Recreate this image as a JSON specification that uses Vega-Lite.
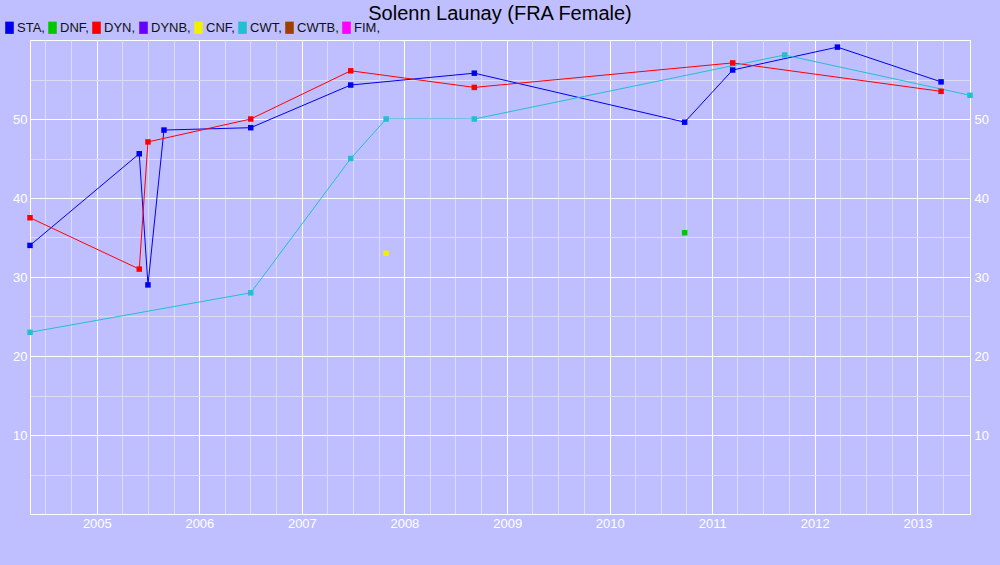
{
  "$schema": "https://vega.github.io/schema/vega-lite/v6.json",
  "width": 940,
  "height": 474,
  "autosize": {"type": "none"},
  "padding": {"left": 30, "top": 40, "right": 30, "bottom": 51},
  "background": "#BFBFFF",
  "config": {
    "view": {"stroke": "#FFFFFF", "strokeWidth": 1, "fill": "#BFBFFF"},
    "font": "Liberation Sans"
  },
  "title": {
    "text": "Solenn Launay (FRA Female)",
    "fontSize": 20,
    "fontWeight": "normal",
    "color": "#000000",
    "anchor": "middle",
    "font": "Liberation Sans",
    "offset": -3
  },
  "data": {
    "values": [
      {"event": "STA", "date": "2004-05-08", "value": 34.0},
      {"event": "STA", "date": "2005-06-01", "value": 45.6},
      {"event": "STA", "date": "2005-07-02", "value": 29.0},
      {"event": "STA", "date": "2005-08-28", "value": 48.6},
      {"event": "STA", "date": "2006-07-03", "value": 48.9},
      {"event": "STA", "date": "2007-06-24", "value": 54.3},
      {"event": "STA", "date": "2008-09-06", "value": 55.8},
      {"event": "STA", "date": "2010-09-25", "value": 49.6},
      {"event": "STA", "date": "2011-03-15", "value": 56.2},
      {"event": "STA", "date": "2012-03-22", "value": 59.1},
      {"event": "STA", "date": "2013-03-26", "value": 54.7},
      {"event": "DYN", "date": "2004-05-08", "value": 37.5},
      {"event": "DYN", "date": "2005-06-01", "value": 31.0},
      {"event": "DYN", "date": "2005-07-02", "value": 47.1},
      {"event": "DYN", "date": "2006-07-03", "value": 50.0},
      {"event": "DYN", "date": "2007-06-24", "value": 56.1},
      {"event": "DYN", "date": "2008-09-06", "value": 54.0},
      {"event": "DYN", "date": "2011-03-15", "value": 57.1},
      {"event": "DYN", "date": "2013-03-26", "value": 53.5},
      {"event": "CWT", "date": "2004-05-08", "value": 23.0},
      {"event": "CWT", "date": "2006-07-03", "value": 28.0},
      {"event": "CWT", "date": "2007-06-24", "value": 45.0},
      {"event": "CWT", "date": "2007-10-28", "value": 50.0},
      {"event": "CWT", "date": "2008-09-06", "value": 50.0},
      {"event": "CWT", "date": "2011-09-16", "value": 58.1},
      {"event": "CWT", "date": "2013-07-07", "value": 53.0},
      {"event": "CNF", "date": "2007-10-28", "value": 33.0},
      {"event": "DNF", "date": "2010-09-25", "value": 35.6}
    ]
  },
  "layer": [
    {
      "mark": {"type": "point", "opacity": 0},
      "encoding": {
        "x": {
          "field": "date", "type": "temporal",
          "scale": {"nice": false},
          "axis": {
            "orient": "bottom", "grid": true, "gridColor": "#DCDCF8", "gridWidth": 1,
            "values": [
              {"year": 2004, "month": 7}, {"year": 2004, "month": 10},
              {"year": 2005, "month": 4}, {"year": 2005, "month": 7}, {"year": 2005, "month": 10},
              {"year": 2006, "month": 4}, {"year": 2006, "month": 7}, {"year": 2006, "month": 10},
              {"year": 2007, "month": 4}, {"year": 2007, "month": 7}, {"year": 2007, "month": 10},
              {"year": 2008, "month": 4}, {"year": 2008, "month": 7}, {"year": 2008, "month": 10},
              {"year": 2009, "month": 4}, {"year": 2009, "month": 7}, {"year": 2009, "month": 10},
              {"year": 2010, "month": 4}, {"year": 2010, "month": 7}, {"year": 2010, "month": 10},
              {"year": 2011, "month": 4}, {"year": 2011, "month": 7}, {"year": 2011, "month": 10},
              {"year": 2012, "month": 4}, {"year": 2012, "month": 7}, {"year": 2012, "month": 10},
              {"year": 2013, "month": 4}
            ],
            "labels": false, "ticks": false, "domain": false, "title": null
          }
        },
        "y": {
          "field": "value", "type": "quantitative",
          "scale": {"domain": [0, 60], "nice": false},
          "axis": {"orient": "left", "grid": true, "gridColor": "#DCDCF8", "gridWidth": 1, "values": [5, 15, 25, 35, 45, 55], "labels": false, "ticks": false, "domain": false, "title": null}
        }
      }
    },
    {
      "mark": {"type": "point", "opacity": 0},
      "encoding": {
        "x": {
          "field": "date", "type": "temporal",
          "axis": {
            "orient": "bottom", "grid": true, "gridColor": "#FFFFFF", "gridWidth": 1,
            "values": [{"year": 2005}, {"year": 2006}, {"year": 2007}, {"year": 2008}, {"year": 2009}, {"year": 2010}, {"year": 2011}, {"year": 2012}, {"year": 2013}],
            "format": "%Y", "labelColor": "#FFFFFF", "labelFontSize": 13, "labelFont": "Liberation Sans", "labelPadding": 3,
            "ticks": false, "domain": true, "domainColor": "#FFFFFF", "title": null, "labelFlush": false
          }
        },
        "y": {
          "field": "value", "type": "quantitative",
          "axis": {
            "orient": "left", "grid": true, "gridColor": "#FFFFFF", "gridWidth": 1,
            "values": [10, 20, 30, 40, 50], "labelColor": "#FFFFFF", "labelFontSize": 13, "labelFont": "Liberation Sans", "labelPadding": 3,
            "ticks": false, "domain": true, "domainColor": "#FFFFFF", "title": null
          }
        }
      }
    },
    {
      "mark": {"type": "line", "strokeWidth": 1},
      "encoding": {
        "x": {"field": "date", "type": "temporal", "axis": null},
        "y": {
          "field": "value", "type": "quantitative",
          "axis": {
            "orient": "right", "grid": false,
            "values": [10, 20, 30, 40, 50], "labelColor": "#FFFFFF", "labelFontSize": 13, "labelFont": "Liberation Sans", "labelPadding": 4,
            "ticks": false, "domain": true, "domainColor": "#FFFFFF", "title": null
          }
        },
        "color": {
          "field": "event", "type": "nominal",
          "scale": {
            "domain": ["STA", "DNF", "DYN", "DYNB", "CNF", "CWT", "CWTB", "FIM"],
            "range": ["#0000F0", "#00C800", "#FF0000", "#6600FF", "#F0F000", "#20C0D0", "#A04000", "#FF00FF"]
          }
        }
      }
    },
    {
      "mark": {"type": "point", "filled": true, "shape": "square", "size": 30, "opacity": 1},
      "encoding": {
        "x": {"field": "date", "type": "temporal", "axis": null},
        "y": {"field": "value", "type": "quantitative", "axis": null},
        "color": {
          "field": "event", "type": "nominal",
          "legend": {
            "orient": "none", "legendX": -27, "legendY": -19, "direction": "horizontal", "title": null,
            "padding": 0, "symbolType": "M-0.7,-1H0.7V1H-0.7Z", "symbolSize": 150, "symbolStrokeWidth": 0,
            "labelFontSize": 13, "labelColor": "#111111", "labelFont": "Liberation Sans",
            "labelExpr": "datum.label + ','", "columnPadding": 1, "labelOffset": 1, "symbolOpacity": 1
          }
        }
      }
    }
  ],
  "resolve": {"axis": {"x": "independent", "y": "independent"}}
}
